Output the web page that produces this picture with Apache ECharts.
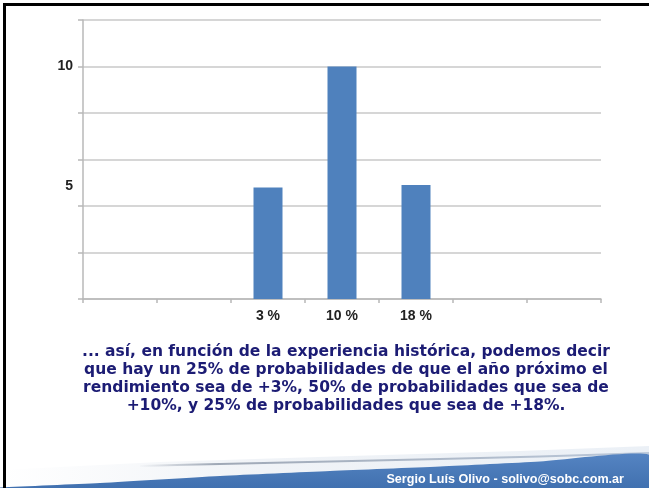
<!DOCTYPE html>
<html>
<head>
<meta charset="utf-8">
<script src="https://cdn.jsdelivr.net/npm/echarts@6/dist/echarts.min.js"></script>
<style>html,body{margin:0;padding:0;background:#fff}#c{width:649px;height:488px}</style>
</head>
<body>
<div id="c"></div>
<script>
// Data
var categories = ['', '', '3 %', '10 %', '18 %', '', ''];
var frequency = [null, null, 4.8, 10, 4.9, null, null];
var gridTicks = [0, 2, 4, 6, 8, 10, 12];
var labelTicks = [5, 10];
var captionLines = [
  '... así, en función de la experiencia histórica, podemos decir',
  'que hay un 25% de probabilidades de que el año próximo el',
  'rendimiento sea de +3%, 50% de probabilidades que sea de',
  '+10%, y 25% de probabilidades que sea de +18%.'
];
var footerText = 'Sergio Luís Olivo - solivo@sobc.com.ar';

var chart = echarts.init(document.getElementById('c'));
var graphics = [];
// footer light strip
graphics.push({type:'polygon', z:1, shape:{points:[[0,488],[0,470],[160,462],[350,456],[520,451],[649,446],[649,488]]},
  style:{fill:new echarts.graphic.LinearGradient(0,0,1,0,[{offset:0,color:'rgba(240,243,247,0)'},{offset:0.4,color:'rgba(240,243,247,1)'},{offset:1,color:'rgba(235,240,246,1)'}])}, silent:true});
// grey line
graphics.push({type:'polyline', z:2, shape:{points:[[140,466],[220,464],[330,461.5],[440,459],[540,456.5],[649,453]], smooth:0.3},
  style:{stroke:new echarts.graphic.LinearGradient(0,0,1,0,[{offset:0,color:'rgba(150,160,175,0)'},{offset:0.15,color:'rgba(150,160,175,0.9)'},{offset:1,color:'rgba(175,190,210,0.8)'}]), lineWidth:2, fill:null}, silent:true});
// blue band
graphics.push({type:'polygon', z:3, shape:{points:[[0,488],[0,487.5],[100,483],[220,476],[330,471],[440,466.5],[540,461.5],[649,454.5],[649,488]], smooth:0.2},
  style:{fill:new echarts.graphic.LinearGradient(0,0,0,1,[{offset:0,color:'#5584c2'},{offset:1,color:'#3f6fae'}])}, silent:true});
// footer text
graphics.push({type:'text', z:4, style:{x:624, y:480, text:footerText, textAlign:'right', textVerticalAlign:'middle', fill:'#ffffff', font:'bold 12.6px "Liberation Sans", Arial, sans-serif'}, silent:true});
// caption
captionLines.forEach(function(t,i){
  graphics.push({type:'text', z:4, style:{x:346, y:352+18*i, text:t, textAlign:'center', textVerticalAlign:'middle', fill:'#1c1c74', font:'bold 15.5px "DejaVu Sans", Verdana, sans-serif'}, silent:true});
});
// frame
graphics.push({type:'rect', z:10, shape:{x:4.5, y:4.5, width:700, height:600}, style:{fill:null, stroke:'#000', lineWidth:3}, silent:true});

var lblFont = '"Liberation Sans", Arial, sans-serif';
chart.setOption({
  animation:false,
  backgroundColor:'#fff',
  grid:{left:83, right:48, top:20, bottom:189, containLabel:false},
  xAxis:{type:'category', data:categories, boundaryGap:true,
    axisLine:{lineStyle:{color:'#b8b8b8', width:1.5}},
    axisTick:{show:true, length:4, alignWithLabel:false, lineStyle:{color:'#b8b8b8', width:1.5}},
    axisLabel:{color:'#222', fontWeight:'bold', fontSize:14, fontFamily:lblFont, margin:10}
  },
  yAxis:[
    {type:'value', min:gridTicks[0], max:gridTicks[gridTicks.length-1], interval:gridTicks[1]-gridTicks[0],
      axisLine:{show:true, lineStyle:{color:'#b8b8b8', width:1.5}},
      axisTick:{show:true, length:5, lineStyle:{color:'#b8b8b8', width:1.5}},
      axisLabel:{show:false},
      splitLine:{show:true, lineStyle:{color:'#c8c8c8', width:1.5}}
    },
    {type:'value', position:'left', min:0, max:12, interval:labelTicks[0],
      axisLine:{show:false}, axisTick:{show:false}, splitLine:{show:false},
      axisLabel:{color:'#222', fontWeight:'bold', fontSize:14, fontFamily:lblFont, margin:10,
        formatter:function(v){ return labelTicks.indexOf(v) >= 0 ? (v===5 ? '{d|'+v+'}' : String(v)) : ''; },
        rich:{d:{color:'#222', fontWeight:'bold', fontSize:14, fontFamily:lblFont, padding:[6,0,0,0]}}
      }
    }
  ],
  series:[{type:'bar', data:frequency, barWidth:29, itemStyle:{color:'#4f81bd'}, yAxisIndex:0}],
  graphic:graphics
});
</script>
</body>
</html>
